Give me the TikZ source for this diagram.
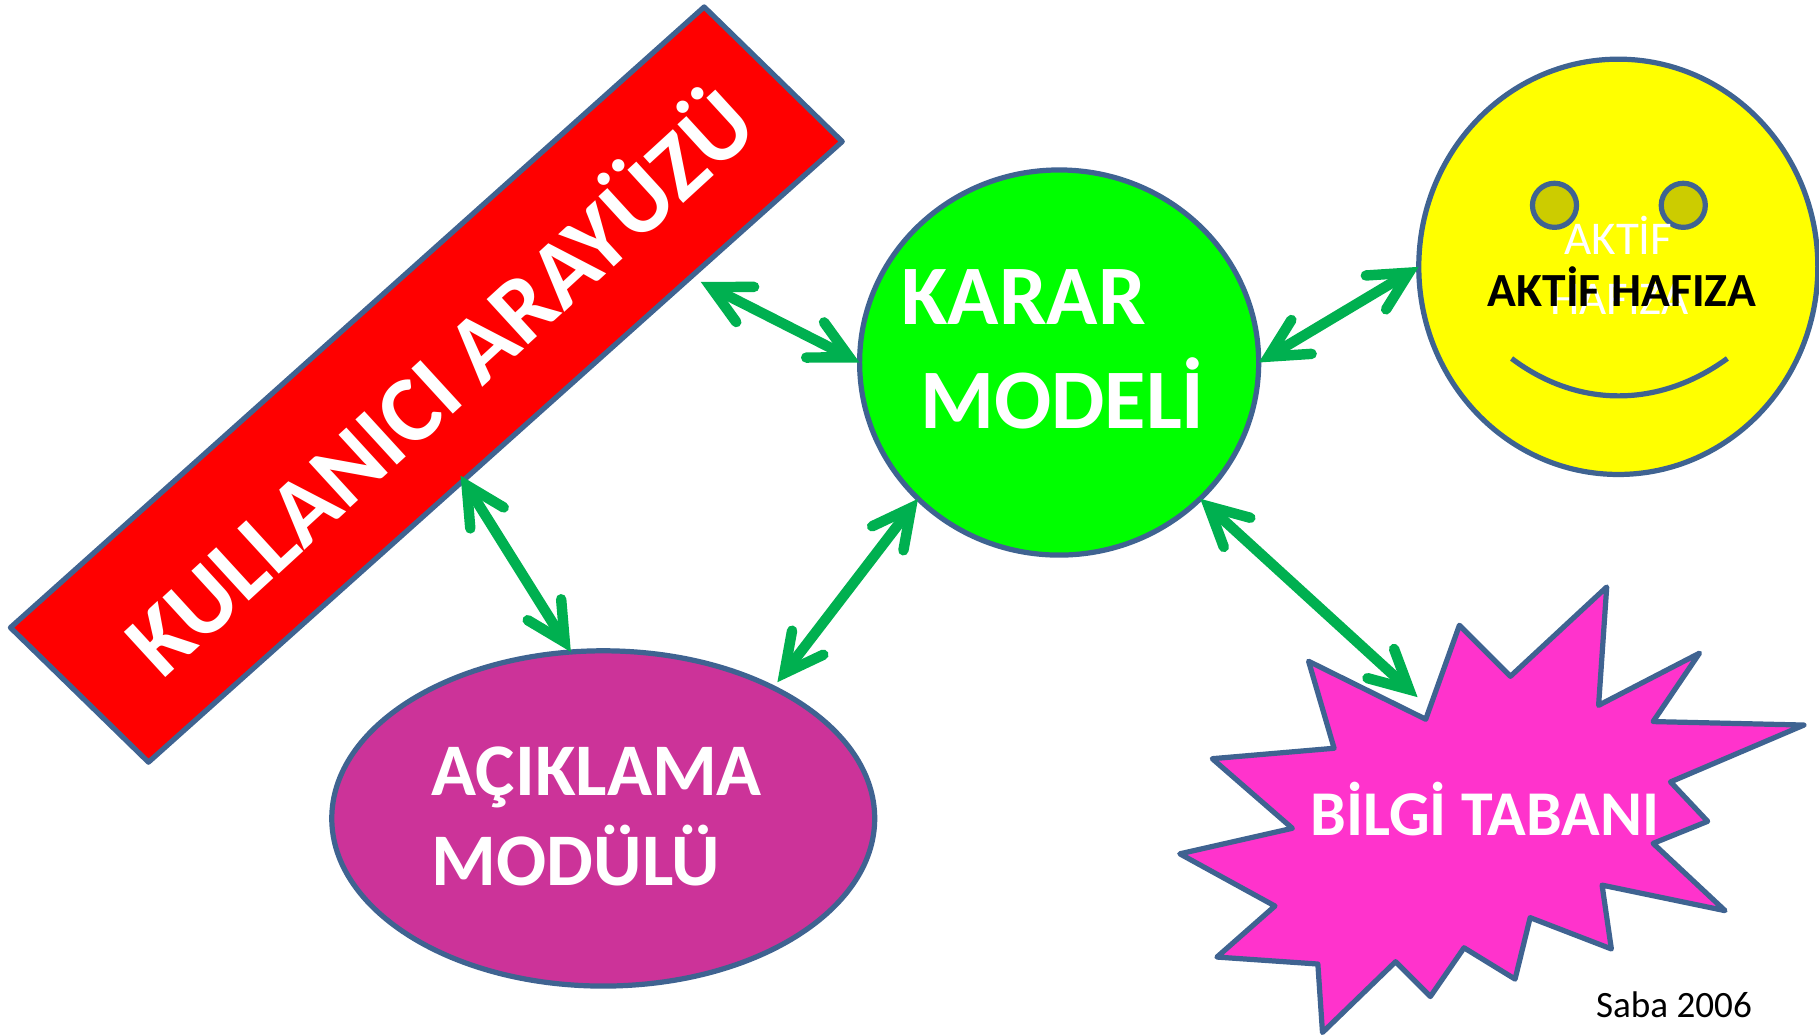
\documentclass[tikz,border=0pt]{standalone}
\usepackage{fontspec}
\setmainfont{Carlito}
\usetikzlibrary{shapes.geometric,arrows.meta}
\definecolor{edgeblue}{HTML}{3F6391}
\definecolor{arrowgreen}{HTML}{00B050}
\definecolor{purplefill}{HTML}{CC3399}
\definecolor{pinkfill}{HTML}{FF33CC}
\definecolor{eyefill}{HTML}{CCCC00}
\definecolor{yellowfill}{HTML}{FFFF00}
\definecolor{redfill}{HTML}{FF0000}
\definecolor{greenfill}{HTML}{00FF00}
\pgfdeclarearrow{
  name=Hd,
  setup code={
    \pgfarrowssettipend{0pt}
    \pgfarrowssetlineend{-14pt}
    \pgfarrowssetbackend{-48pt}
    \pgfarrowssetvisualbackend{-14pt}
    \pgfarrowshullpoint{0pt}{0pt}
  },
  drawing code={
    \pgfsetlinewidth{9pt}
    \pgfsetroundcap
    \pgfsetmiterjoin
    \pgfsetmiterlimit{10}
    \pgfpathmoveto{\pgfqpoint{-43pt}{17pt}}
    \pgfpathlineto{\pgfqpoint{-9.9pt}{0pt}}
    \pgfpathlineto{\pgfqpoint{-43pt}{-17pt}}
    \pgfusepathqstroke
  }
}
\tikzset{
  shapeedge/.style={draw=edgeblue,line width=4.5pt},
  bluep/.style={shapeedge,ellipse,inner sep=0pt,outer sep=0pt},
  biglabel/.style={text=white,inner sep=0pt,anchor=base west,font=\bfseries\fontsize{73}{80}\selectfont},
  midlabel/.style={text=white,inner sep=0pt,anchor=base west,font=\bfseries\fontsize{64}{70}\selectfont},
  twoway/.style={arrowgreen,line width=9pt,{Hd}-{Hd}},
}
\begin{document}
\begin{tikzpicture}[x=1pt,y=-1pt]
\useasboundingbox (0,0) rectangle (1568,893);
% Kullanici arayuzu
\draw[shapeedge,fill=redfill,line join=round] (607,6) -- (726,122) -- (128,657) -- (9,541) -- cycle;
\node[rotate=42.5,text=white,inner sep=0pt,font=\bfseries\fontsize{81.5}{86}\selectfont] (arayuz) at (376,326) {KULLANICI ARAYÜZÜ};
\coordinate (arayuzR) at (604,243);
\coordinate (arayuzB) at (397,410);
% Karar modeli
\node[bluep,fill=greenfill,minimum width=344pt,minimum height=332pt] (karar) at (913,312.5) {};
\node[biglabel] (kararA) at (777,280) {KARAR};
\node[biglabel] (kararB) at (793,369) {MODELİ};
% Aciklama
\node[bluep,fill=purplefill,minimum width=468pt,minimum height=289pt] (aciklama) at (520,705.5) {};
\node[midlabel] (aciklamaA) at (372,686) {AÇIKLAMA};
\node[midlabel] (aciklamaB) at (372,763) {MODÜLÜ};
% Aktif hafiza
\node[bluep,fill=yellowfill,minimum width=344pt,minimum height=358pt] (yuz) at (1395,230) {};
\node[bluep,fill=eyefill,minimum width=38pt,minimum height=38pt] (gozA) at (1340,177) {};
\node[bluep,fill=eyefill,minimum width=38pt,minimum height=38pt] (gozB) at (1451,177) {};
\draw[shapeedge] (1303,309) .. controls (1360,352) and (1430,352) .. (1489,309);
\node[text=white,inner sep=0pt,anchor=base,font=\fontsize{40.5}{42}\selectfont] (beyazA) at (1395,219) {AKTİF};
\node[text=white,inner sep=0pt,anchor=base,font=\fontsize{40.5}{42}\selectfont] (beyazB) at (1396,271) {HAFIZA};
\node[text=black,inner sep=0pt,anchor=base,font=\bfseries\fontsize{41}{43}\selectfont] (yuzyazi) at (1398,264) {AKTİF HAFIZA};
% Bilgi tabani
\draw[shapeedge,fill=pinkfill,line join=round] (1385,506) -- (1378,608) -- (1465,563) -- (1425,622) -- (1555,625) -- (1440,674) -- (1472,708) -- (1425,727) -- (1487,785) -- (1381,763) -- (1389,818) -- (1319,791) -- (1306,844) -- (1262,817) -- (1233,859) -- (1203,829) -- (1140,890) -- (1136,831) -- (1049,825) -- (1099,781) -- (1017,736) -- (1114,714) -- (1045,654) -- (1150,645) -- (1128,570) -- (1229,620) -- (1258,539) -- (1302,583) -- cycle;
\node[text=white,inner sep=0pt,anchor=base,font=\bfseries\fontsize{55}{58}\selectfont] (bilgi) at (1280,720) {BİLGİ TABANI};
\coordinate (bilgiTip) at (1222,601);
\node[text=black,inner sep=0pt,anchor=base,font=\fontsize{32}{34}\selectfont] (saba) at (1443,877) {Saba 2006};
% Oklar
\draw[twoway] (arayuzR) -- (karar.180);
\draw[twoway] (arayuzB) -- (aciklama.101);
\draw[twoway] ([shift={(5,-4)}]aciklama.38) -- (karar.224);
\draw[twoway] (karar.0) -- (yuz.180);
\draw[twoway] (karar.316) -- (bilgiTip);
\end{tikzpicture}
\end{document}
